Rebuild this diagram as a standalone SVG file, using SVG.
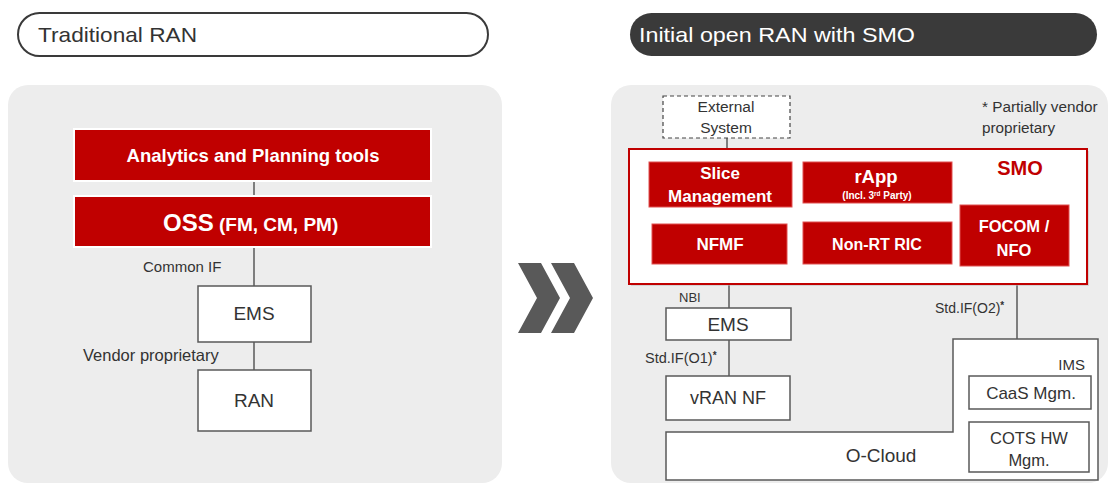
<svg xmlns="http://www.w3.org/2000/svg" width="1110" height="484" viewBox="0 0 1110 484">
<defs>
<style>
.t{font-family:"Liberation Sans",Arial,sans-serif;fill:#333}
.w{font-family:"Liberation Sans",Arial,sans-serif;fill:#fff;font-weight:bold;text-anchor:middle}
.red{fill:#C00000;stroke:#fff;stroke-width:2}
.redi{fill:#C00000;stroke:#e05050;stroke-width:1}
.box{fill:#fff;stroke:#595959;stroke-width:1.5}
.ln{stroke:#595959;stroke-width:1.5;fill:none}
.panel{fill:#EDEDED}
</style>
</defs>
<rect width="1110" height="484" fill="#fff"/>
<g id="title-left">
<rect x="18" y="13" width="470" height="43" rx="21.5" fill="#fff" stroke="#3a3a3a" stroke-width="2"/>
<text class="t" x="38" y="42" font-size="21" textLength="159" lengthAdjust="spacingAndGlyphs" fill="#333">Traditional RAN</text>
</g>
<g id="title-right">
<rect x="630" y="13" width="467" height="43" rx="21.5" fill="#3a3a3a"/>
<text x="639" y="42" font-size="21" textLength="276" lengthAdjust="spacingAndGlyphs" fill="#fff" font-family="Liberation Sans, Arial, sans-serif">Initial open RAN with SMO</text>
</g>
<rect id="panel-left" class="panel" x="8" y="85" width="494" height="398" rx="20"/>
<rect id="panel-right" class="panel" x="611" y="85" width="497" height="398" rx="20"/>
<g id="chevrons" fill="#595959">
<polygon points="518,263 541,263 560,298 541,333 518,333 537,298"/>
<polygon points="551,263 574,263 593,298 574,333 551,333 570,298"/>
</g>
<g id="connectors">
<line class="ln" x1="254" y1="181" x2="254" y2="196"/>
<line class="ln" x1="254" y1="247" x2="254" y2="286"/>
<line class="ln" x1="254" y1="342" x2="254" y2="370"/>
<line class="ln" x1="727" y1="138" x2="727" y2="149"/>
<line class="ln" x1="729" y1="284" x2="729" y2="308"/>
<line class="ln" x1="729" y1="340" x2="729" y2="376"/>
<line class="ln" x1="1017" y1="284" x2="1017" y2="339"/>
</g>
<g id="labels">
<text class="t" x="143" y="272" font-size="15">Common IF</text>
<text class="t" x="83" y="361" font-size="16.5">Vendor proprietary</text>
<text class="t" x="679" y="302" font-size="13">NBI</text>
<text class="t" x="645" y="363" font-size="14.5">Std.IF(O1)<tspan font-size="10" dy="-4" font-weight="bold">*</tspan></text>
<text class="t" x="935" y="313" font-size="14">Std.IF(O2)<tspan font-size="10" dy="-4" font-weight="bold">*</tspan></text>
<text class="t" x="982" y="112" font-size="15.3">* Partially vendor</text>
<text class="t" x="982" y="133" font-size="15.3">proprietary</text>
</g>
<g id="analytics">
<rect class="red" x="74" y="129" width="357" height="52"/>
<text class="w" x="253" y="162" font-size="18.5">Analytics and Planning tools</text>
</g>
<g id="oss">
<rect class="red" x="74" y="196" width="357" height="51"/>
<text class="w" x="163" y="231" style="text-anchor:start"><tspan font-size="24">OSS</tspan><tspan font-size="19"> (FM, CM, PM)</tspan></text>
</g>
<g id="ems-left">
<rect class="box" x="198" y="286" width="113" height="56"/>
<text class="t" x="254" y="320" font-size="19" text-anchor="middle">EMS</text>
</g>
<g id="ran">
<rect class="box" x="198" y="370" width="113" height="61"/>
<text class="t" x="254" y="407" font-size="19" text-anchor="middle">RAN</text>
</g>
<g id="external">
<rect x="663" y="96" width="127" height="42" fill="#fff" stroke="#444" stroke-width="1.2" stroke-dasharray="4,3"/>
<text class="t" x="726" y="112" font-size="15.5" text-anchor="middle" fill="#444">External</text>
<text class="t" x="726" y="133" font-size="15.5" text-anchor="middle" fill="#444">System</text>
</g>
<g id="smo">
<rect x="631" y="151" width="458" height="135" fill="#bbb" opacity="0.5"/>
<rect x="629" y="149" width="458" height="135" fill="#fff" stroke="#C00000" stroke-width="2"/>
<text x="1020" y="175" font-size="20" font-weight="bold" fill="#C00000" text-anchor="middle" font-family="Liberation Sans, Arial, sans-serif">SMO</text>
</g>
<g id="slice">
<rect class="redi" x="649" y="162" width="143" height="45"/>
<text class="w" x="720" y="179" font-size="17">Slice</text>
<text class="w" x="720" y="202" font-size="17">Management</text>
</g>
<g id="rapp">
<rect class="redi" x="803" y="162" width="149" height="41"/>
<text class="w" x="876" y="183" font-size="18.5">rApp</text>
<text class="w" x="877" y="199" font-size="10">(Incl. 3<tspan font-size="6.5" dy="-3">rd</tspan><tspan dy="3"> Party)</tspan></text>
</g>
<g id="nfmf">
<rect class="redi" x="652" y="224" width="135" height="40"/>
<text class="w" x="720" y="250" font-size="17">NFMF</text>
</g>
<g id="nonrtric">
<rect class="redi" x="803" y="222" width="149" height="42"/>
<text class="w" x="877" y="250" font-size="16">Non-RT RIC</text>
</g>
<g id="focom">
<rect class="redi" x="960" y="205" width="109" height="61"/>
<text class="w" x="1014" y="232" font-size="16.5">FOCOM /</text>
<text class="w" x="1014" y="256" font-size="16.5">NFO</text>
</g>
<g id="ems-right">
<rect class="box" x="666" y="308" width="125" height="32"/>
<text class="t" x="728" y="331" font-size="19" text-anchor="middle">EMS</text>
</g>
<g id="vran">
<rect class="box" x="666" y="376" width="124" height="44"/>
<text class="t" x="728" y="404" font-size="18" text-anchor="middle">vRAN NF</text>
</g>
<g id="ocloud">
<polygon class="box" points="666,432 953,432 953,339 1098,339 1098,480 666,480"/>
<text class="t" x="881" y="462" font-size="19" text-anchor="middle">O-Cloud</text>
<text class="t" x="1085" y="370" font-size="15" text-anchor="end">IMS</text>
</g>
<g id="caas">
<rect class="box" x="969" y="376" width="122" height="33"/>
<text class="t" x="1031" y="399" font-size="17" text-anchor="middle">CaaS Mgm.</text>
</g>
<g id="cots">
<rect class="box" x="969" y="422" width="120" height="50"/>
<text class="t" x="1029" y="444" font-size="16.5" text-anchor="middle">COTS HW</text>
<text class="t" x="1029" y="466" font-size="16.5" text-anchor="middle">Mgm.</text>
</g>
</svg>
